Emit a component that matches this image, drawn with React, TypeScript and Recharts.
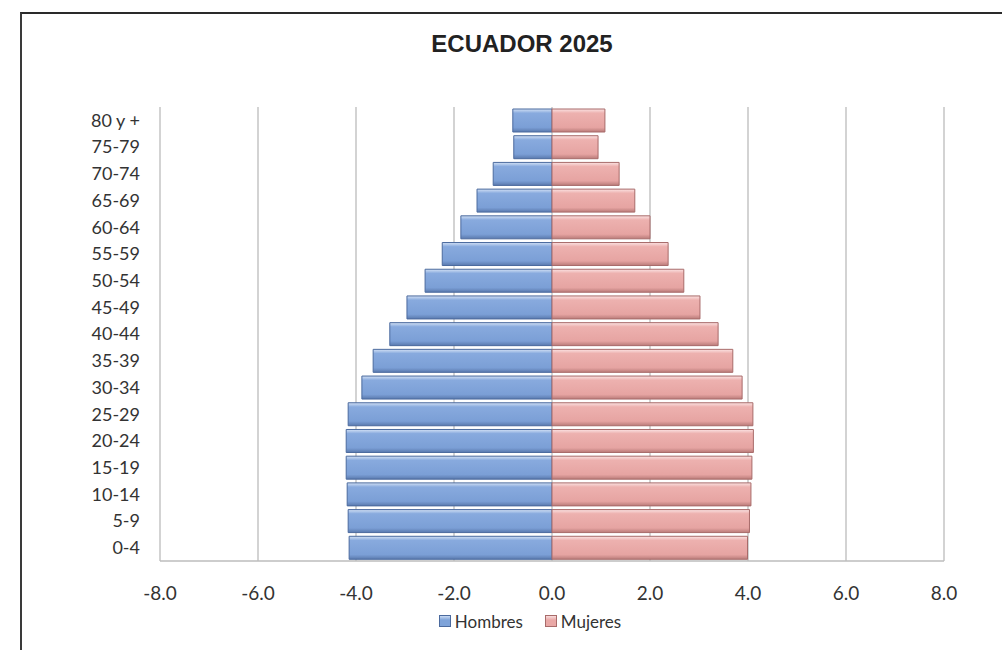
import { BarChart, Bar, XAxis, YAxis, CartesianGrid, Legend } from "recharts";

// age groups, youngest first (axis is reversed so 80 y + sits on top)
const ageGroups = [
  "0-4", "5-9", "10-14", "15-19", "20-24", "25-29", "30-34", "35-39", "40-44",
  "45-49", "50-54", "55-59", "60-64", "65-69", "70-74", "75-79", "80 y +",
];

// percent of population, men drawn to the left as negatives
const hombres = [
  -4.14, -4.16, -4.18, -4.2, -4.2, -4.16, -3.88, -3.65, -3.31,
  -2.96, -2.59, -2.24, -1.86, -1.53, -1.2, -0.78, -0.8,
];
const mujeres = [
  3.99, 4.03, 4.06, 4.08, 4.11, 4.1, 3.88, 3.69, 3.39,
  3.02, 2.69, 2.37, 2.0, 1.69, 1.37, 0.94, 1.08,
];

const xTicks = [-8, -6, -4, -2, 0, 2, 4, 6, 8];

const data = ageGroups.map((age, i) => ({
  age,
  Hombres: hombres[i],
  Mujeres: mujeres[i],
}));

const FONT = "Lato, 'Open Sans', sans-serif";

const legendItems = [
  { name: "Hombres", color: "#7ea3d9", light: "#c9daf3", edge: "#4b6a9e" },
  { name: "Mujeres", color: "#e9a8a6", light: "#f8dcdc", edge: "#a86b6a" },
];

const renderLegend = () => (
  <div
    style={{
      display: "flex",
      justifyContent: "center",
      alignItems: "center",
      gap: 22,
      height: 22,
      fontFamily: FONT,
      fontSize: 17,
      color: "#333",
      paddingLeft: 96,
    }}
  >
    {legendItems.map((it) => (
      <span key={it.name} style={{ display: "flex", alignItems: "center" }}>
        <span
          style={{
            display: "inline-block",
            width: 10,
            height: 10,
            marginRight: 4,
            background: `linear-gradient(${it.light}, ${it.color} 40%, ${it.color})`,
            border: `1px solid ${it.edge}`,
          }}
        />
        {it.name}
      </span>
    ))}
  </div>
);

export default function App() {
  return (
    <div
      style={{
        position: "absolute",
        left: 0,
        top: 0,
        width: 1002,
        height: 650,
        background: "#fff",
        overflow: "hidden",
      }}
    >
      {/* frame of the original figure */}
      <div
        style={{
          position: "absolute",
          left: 20,
          top: 12,
          width: 1002,
          height: 660,
          borderLeft: "2px solid #3a3a3a",
          borderTop: "2px solid #2a2a2a",
        }}
      />
      <div
        style={{
          position: "absolute",
          left: 0,
          width: 1044,
          top: 30,
          textAlign: "center",
          fontFamily: "'Liberation Sans', Arial, sans-serif",
          fontWeight: "bold",
          fontSize: 24,
          color: "#222",
        }}
      >
        ECUADOR 2025
      </div>
      <div style={{ position: "absolute", left: 0, top: 0 }}>
        <BarChart
          width={1002}
          height={650}
          data={data}
          layout="vertical"
          stackOffset="sign"
          barCategoryGap={2}
          margin={{ top: 107, right: 58, left: 20, bottom: 18 }}
        >
          <defs>
            <linearGradient id="gradHombres" x1="0" y1="0" x2="0" y2="1">
              <stop offset="0%" stopColor="#d3e1f5" />
              <stop offset="18%" stopColor="#88aade" />
              <stop offset="80%" stopColor="#7b9fd6" />
              <stop offset="100%" stopColor="#5a79ad" />
            </linearGradient>
            <linearGradient id="gradMujeres" x1="0" y1="0" x2="0" y2="1">
              <stop offset="0%" stopColor="#fbe3e3" />
              <stop offset="18%" stopColor="#edb1af" />
              <stop offset="80%" stopColor="#e6a4a2" />
              <stop offset="100%" stopColor="#b97b79" />
            </linearGradient>
          </defs>
          <CartesianGrid horizontal={false} stroke="#c4c4c4" strokeWidth={1.5} />
          <XAxis
            type="number"
            domain={[-8, 8]}
            ticks={xTicks}
            interval={0}
            tickFormatter={(v: number) => v.toFixed(1)}
            height={49}
            tickLine={false}
            tickSize={0}
            tickMargin={26}
            axisLine={{ stroke: "#bdbdbd", strokeWidth: 1.5 }}
            tick={{ fill: "#333", fontSize: 19, fontFamily: FONT }}
          />
          <YAxis
            type="category"
            dataKey="age"
            reversed
            width={140}
            interval={0}
            tickLine={false}
            axisLine={false}
            tickSize={0}
            tickMargin={20}
            tick={{ fill: "#333", fontSize: 18, fontFamily: FONT }}
          />
          <Legend verticalAlign="bottom" content={renderLegend} />
          <Bar
            dataKey="Hombres"
            stackId="p"
            fill="url(#gradHombres)"
            stroke="#4b6a9e"
            strokeWidth={1}
            isAnimationActive={false}
          />
          <Bar
            dataKey="Mujeres"
            stackId="p"
            fill="url(#gradMujeres)"
            stroke="#a86b6a"
            strokeWidth={1}
            isAnimationActive={false}
          />
        </BarChart>
      </div>
    </div>
  );
}
